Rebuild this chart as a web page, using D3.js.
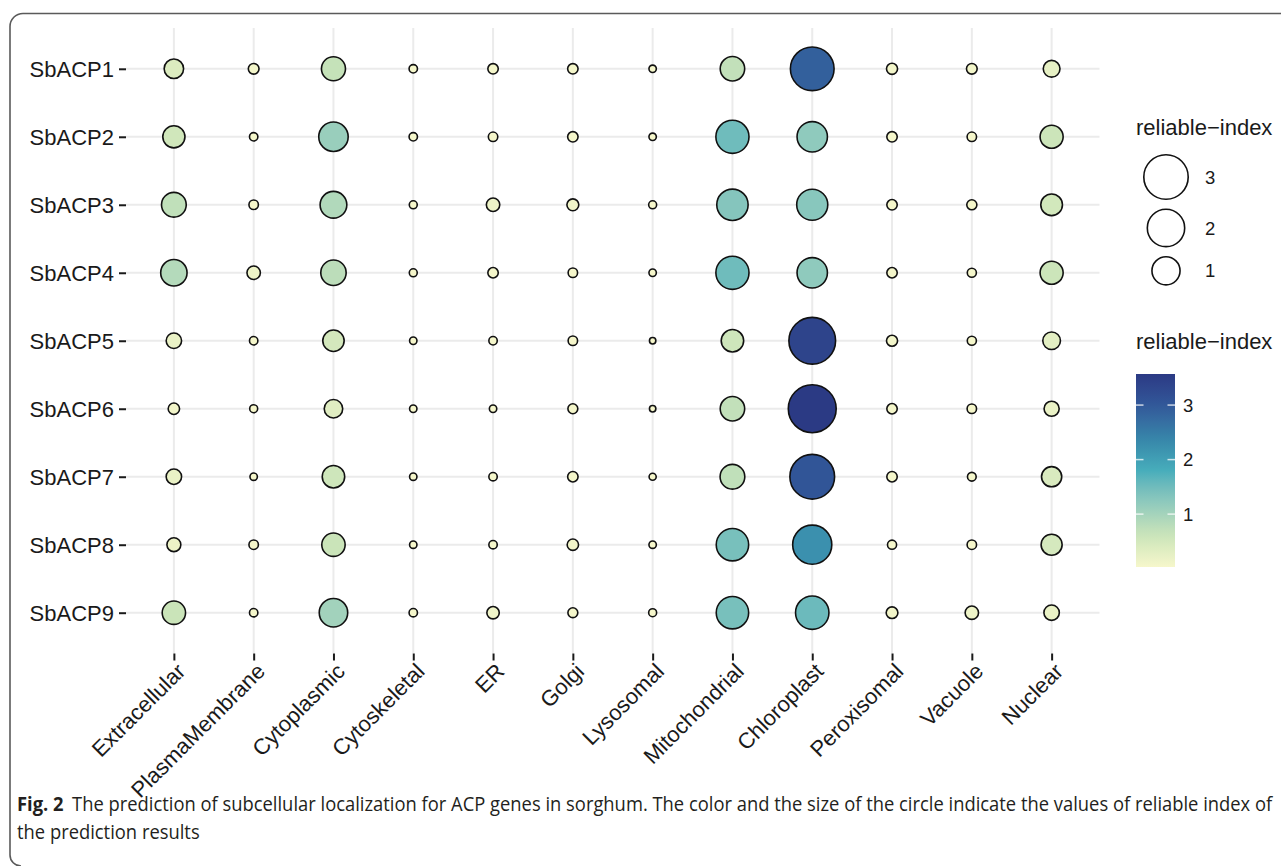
<!DOCTYPE html>
<html>
<head>
<meta charset="utf-8">
<script src="https://cdn.jsdelivr.net/npm/d3@7"></script>
<style>
  html, body { margin: 0; padding: 0; background: #ffffff; }
  svg { display: block; }
</style>
</head>
<body>
<svg id="chart" width="1281" height="866"></svg>
<script>
// Predicted subcellular localization of sorghum ACP genes (reliable index)
const locations = ["Extracellular", "PlasmaMembrane", "Cytoplasmic", "Cytoskeletal", "ER", "Golgi",
  "Lysosomal", "Mitochondrial", "Chloroplast", "Peroxisomal", "Vacuole", "Nuclear"];
const genes = ["SbACP1", "SbACP2", "SbACP3", "SbACP4", "SbACP5", "SbACP6", "SbACP7", "SbACP8", "SbACP9"];

// reliable index per location, in the order of `locations`
const sbACP1 = [0.38, 0.068, 0.67, 0.038, 0.063, 0.063, 0.032, 0.70, 2.89, 0.075, 0.068, 0.25];
const sbACP2 = [0.54, 0.038, 1.12, 0.038, 0.049, 0.063, 0.032, 1.50, 1.21, 0.063, 0.049, 0.60];
const sbACP3 = [0.72, 0.049, 0.88, 0.035, 0.131, 0.092, 0.035, 1.31, 1.28, 0.063, 0.058, 0.51];
const sbACP4 = [0.85, 0.131, 0.77, 0.035, 0.063, 0.049, 0.032, 1.50, 1.21, 0.063, 0.045, 0.60];
const sbACP5 = [0.197, 0.038, 0.49, 0.032, 0.038, 0.049, 0.030, 0.56, 3.37, 0.075, 0.045, 0.29];
const sbACP6 = [0.081, 0.035, 0.33, 0.032, 0.032, 0.055, 0.030, 0.70, 3.57, 0.063, 0.049, 0.186];
const sbACP7 = [0.197, 0.032, 0.56, 0.032, 0.038, 0.063, 0.031, 0.72, 3.05, 0.063, 0.041, 0.42];
const sbACP8 = [0.146, 0.049, 0.62, 0.032, 0.038, 0.081, 0.032, 1.42, 2.23, 0.045, 0.049, 0.47];
const sbACP9 = [0.62, 0.038, 1.03, 0.038, 0.104, 0.055, 0.035, 1.42, 1.53, 0.088, 0.131, 0.197];
const geneValues = [sbACP1, sbACP2, sbACP3, sbACP4, sbACP5, sbACP6, sbACP7, sbACP8, sbACP9];

const sizeBreaks = [3, 2, 1];
const colorBreaks = [1, 2, 3];
const legendTitle = "reliable\u2212index";
const palette = ["#f6f7cb", "#cae4b9", "#8fcabd", "#47adbb", "#3685a9", "#32599a", "#2b3a84"];

const captionBold = "Fig. 2";
const captionLine1 = "The prediction of subcellular localization for ACP genes in sorghum. The color and the size of the circle indicate the values of reliable index of";
const captionLine2 = "the prediction results";

// ---------------------------------------------------------------------------
const cells = genes.flatMap((g, i) => locations.map((loc, j) => ({ gene: g, location: loc, value: geneValues[i][j] })));
const extent = d3.extent(cells, d => d.value);

const svg = d3.select("#chart");
const axisFont = "'Liberation Sans', Arial, Helvetica, sans-serif";
const panel = { left: 126, right: 1099.5, top: 28, bottom: 653.5 };
const STROKE = 1.6;

const x = d3.scalePoint().domain(locations).range([panel.left, panel.right]).padding(0.6);
const y = d3.scalePoint().domain(genes).range([panel.top, panel.bottom]).padding(0.6);

// area-style size scale over the data range (outer diameter in px)
const norm = d3.scaleLinear().domain(extent).range([0, 1]);
const diameter = d3.scaleSqrt().domain([0, 1]).range([8, 49.5]);
const radius = v => diameter(Math.max(0, norm(v))) / 2 - STROKE / 2;

const color = d3.scaleLinear()
  .domain(palette.map((_, i) => extent[0] + i * (extent[1] - extent[0]) / (palette.length - 1)))
  .range(palette)
  .interpolate(d3.interpolateLab);

// frame around figure
svg.append("path")
  .attr("d", "M1281,13.5 H23 A13,13 0 0 0 10,26.5 V855 A11,11 0 0 0 21,866")
  .attr("fill", "none")
  .attr("stroke", "#5a5a5a")
  .attr("stroke-width", 1.6);

// grid
const grid = svg.append("g");
grid.selectAll("line.v").data(locations).join("line")
  .attr("x1", d => x(d)).attr("x2", d => x(d))
  .attr("y1", panel.top).attr("y2", panel.bottom)
  .attr("stroke", "#ebebeb").attr("stroke-width", 2);
grid.selectAll("line.h").data(genes).join("line")
  .attr("y1", d => y(d)).attr("y2", d => y(d))
  .attr("x1", panel.left).attr("x2", panel.right)
  .attr("stroke", "#ebebeb").attr("stroke-width", 2);

// axes
const yAxis = svg.append("g")
  .attr("transform", `translate(${panel.left},0)`)
  .call(d3.axisLeft(y).tickSize(7).tickPadding(5));
const xAxis = svg.append("g")
  .attr("transform", `translate(0,${panel.bottom})`)
  .call(d3.axisBottom(x).tickSize(7).tickPadding(4));

[yAxis, xAxis].forEach(a => {
  a.select(".domain").remove();
  a.attr("font-family", axisFont).attr("font-size", 22);
  a.selectAll(".tick line").attr("stroke", "#1a1a1a").attr("stroke-width", 2);
  a.selectAll(".tick text").attr("fill", "#1a1a1a");
});
yAxis.selectAll(".tick text").attr("dy", "0.36em");
xAxis.selectAll(".tick text")
  .attr("x", 0).attr("y", 0)
  .attr("text-anchor", "end")
  .attr("dy", "0.72em")
  .attr("transform", "translate(1,8) rotate(-45)");

// bubbles
svg.append("g").selectAll("circle").data(cells).join("circle")
  .attr("cx", d => x(d.location))
  .attr("cy", d => y(d.gene))
  .attr("r", d => radius(d.value))
  .attr("fill", d => color(d.value))
  .attr("stroke", "#111")
  .attr("stroke-width", STROKE);

// size legend
const lg = svg.append("g").attr("font-family", axisFont).attr("fill", "#1a1a1a");
lg.append("text").attr("x", 1136).attr("y", 135).attr("font-size", 22).text(legendTitle);
let cy = 154;
const sizeKeys = sizeBreaks.map((v, i) => {
  const r = radius(v);
  cy += (i === 0 ? r + STROKE / 2 : r + STROKE / 2 + 8.5);
  const key = { v, r, cy };
  cy += r + STROKE / 2;
  return key;
});
lg.selectAll("circle").data(sizeKeys).join("circle")
  .attr("cx", 1166).attr("cy", d => d.cy).attr("r", d => d.r)
  .attr("fill", "#fff").attr("stroke", "#111").attr("stroke-width", STROKE);
lg.selectAll("text.lab").data(sizeKeys).join("text").attr("class", "lab")
  .attr("x", 1205).attr("y", d => d.cy).attr("dy", "0.36em")
  .attr("font-size", 18.5).text(d => d.v);

// colour bar
const bar = { x: 1136, w: 39, top: 374, bottom: 567 };
const cbY = d3.scaleLinear().domain(extent).range([bar.bottom, bar.top]);
const defs = svg.append("defs");
const grad = defs.append("linearGradient").attr("id", "cbar")
  .attr("x1", 0).attr("y1", 1).attr("x2", 0).attr("y2", 0);
d3.range(0, 1.0001, 0.05).forEach(t => {
  grad.append("stop").attr("offset", t)
    .attr("stop-color", color(extent[0] + t * (extent[1] - extent[0])));
});
const cg = svg.append("g").attr("font-family", axisFont).attr("fill", "#1a1a1a");
cg.append("text").attr("x", 1136).attr("y", 349).attr("font-size", 22).text(legendTitle);
cg.append("rect").attr("x", bar.x).attr("y", bar.top)
  .attr("width", bar.w).attr("height", bar.bottom - bar.top)
  .attr("fill", "url(#cbar)");
colorBreaks.forEach(v => {
  const yy = cbY(v);
  cg.append("line").attr("x1", bar.x).attr("x2", bar.x + 7.5).attr("y1", yy).attr("y2", yy)
    .attr("stroke", "#fff").attr("stroke-opacity", 0.75).attr("stroke-width", 1.5);
  cg.append("line").attr("x1", bar.x + bar.w - 7.5).attr("x2", bar.x + bar.w).attr("y1", yy).attr("y2", yy)
    .attr("stroke", "#fff").attr("stroke-opacity", 0.75).attr("stroke-width", 1.5);
  cg.append("text").attr("x", bar.x + bar.w + 8).attr("y", yy).attr("dy", "0.36em")
    .attr("font-size", 18.5).text(v);
});

// caption, condensed to the figure width
const capFont = "'Open Sans', 'Noto Sans', sans-serif";
const cap = svg.append("g").attr("font-family", capFont).attr("font-size", 19.5).attr("fill", "#231f20");
const l1 = cap.append("text").attr("x", 0).attr("y", 811);
l1.append("tspan").attr("font-weight", "bold").text(captionBold);
l1.append("tspan").attr("dx", 9).text(captionLine1);
cap.append("text").attr("x", 0).attr("y", 839).text(captionLine2);
const natural = l1.node().getBBox().width;
const k = (1274 - 17) / natural;
cap.attr("transform", `translate(17,0) scale(${k},1)`);
</script>
</body>
</html>
